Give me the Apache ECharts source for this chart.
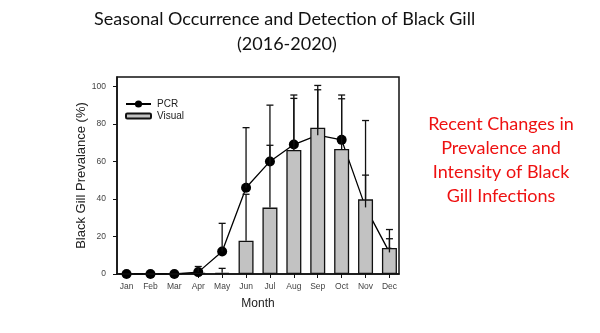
<!DOCTYPE html>
<html>
<head>
<meta charset="utf-8">
<script src="https://cdn.jsdelivr.net/npm/echarts@6/dist/echarts.min.js"></script>
<style>
  html, body { margin: 0; padding: 0; background: #fff; }
  #chart { width: 600px; height: 333px; }
</style>
</head>
<body>
<div id="chart"></div>
<script>
// Month categories (x positions 1..12)
var months = ['Jan', 'Feb', 'Mar', 'Apr', 'May', 'Jun', 'Jul', 'Aug', 'Sep', 'Oct', 'Nov', 'Dec'];
// PCR prevalence (%) and upper end of its error bar
var pcr = [0, 0, 0, 1, 12, 46, 60, 69, 74, 71.5, 35.5, 11.5];
var pcrUpper = [null, null, null, 4, 27, 78, 90, 95.4, 100.5, 95.4, 81.8, 23.7];
// Visual prevalence (%) and upper end of its error bar
var visual = [0, 0, 0, 0.6, 0.6, 17.7, 35.4, 66.1, 78, 66.6, 39.8, 13.9];
var visualUpper = [null, null, null, null, 3, 42.5, 68.6, 93.6, 98.2, 93.4, 52.7, 18.8];
// Y axis tick values
var yTicks = [0, 20, 40, 60, 80, 100];

var monthPos = months.map(function (m, i) { return i + 1; });
var FONT = 'Liberation Sans, Arial, sans-serif';

function pairs(values) {
  return values.map(function (v, i) { return [i + 1, v]; });
}

function errorData(values, uppers) {
  var out = [];
  values.forEach(function (v, i) {
    if (uppers[i] != null) out.push([i + 1, v, uppers[i]]);
  });
  return out;
}

function renderError(params, api) {
  var x = api.value(0);
  var low = api.coord([x, api.value(1)]);
  var high = api.coord([x, api.value(2)]);
  var half = 3.5;
  var style = { stroke: '#111', lineWidth: 1.3 };
  return {
    type: 'group',
    children: [
      { type: 'line', shape: { x1: low[0], y1: low[1], x2: high[0], y2: high[1] }, style: style },
      { type: 'line', shape: { x1: high[0] - half, y1: high[1], x2: high[0] + half, y2: high[1] }, style: style }
    ]
  };
}

var chart = echarts.init(document.getElementById('chart'), null, { renderer: 'canvas' });

chart.setOption({
  animation: false,
  backgroundColor: '#fff',
  textStyle: { fontFamily: FONT },
  grid: {
    left: 117, right: 201, top: 77, bottom: 59,
    show: true, borderColor: '#111', borderWidth: 1.5, backgroundColor: 'transparent'
  },
  legend: [
    {
      data: ['PCR'], left: 125, top: 99, itemWidth: 25, itemHeight: 9, itemGap: 0,
      textStyle: { fontSize: 10, color: '#222', padding: [0, 0, 0, 1] },
      padding: 0
    },
    {
      data: ['Visual'], left: 125, top: 111, itemWidth: 25, itemHeight: 5, itemGap: 0,
      textStyle: { fontSize: 10, color: '#222', padding: [0, 0, 0, 1] },
      padding: 0
    }
  ],
  xAxis: {
    type: 'value', min: 0.6, max: 12.4,
    name: 'Month', nameLocation: 'middle', nameGap: 24,
    nameTextStyle: { fontSize: 12, color: '#222', fontFamily: FONT },
    axisLine: { show: true, onZero: false, lineStyle: { color: '#111', width: 1.5 } },
    axisTick: { show: true, inside: false, length: 4, customValues: monthPos, lineStyle: { color: '#111' } },
    axisLabel: {
      customValues: monthPos, margin: 8, fontSize: 8.5, color: '#444',
      formatter: function (v) { return months[Math.round(v) - 1] || ''; }
    },
    splitLine: { show: false }
  },
  yAxis: {
    type: 'value', min: 0, max: 105,
    name: 'Black Gill Prevalance (%)', nameLocation: 'middle', nameGap: 28,
    nameTextStyle: { fontSize: 13, color: '#222', fontFamily: FONT },
    axisLine: { show: true, lineStyle: { color: '#111', width: 1.5 } },
    axisTick: { show: true, length: 4, customValues: yTicks, lineStyle: { color: '#111' } },
    axisLabel: { customValues: yTicks, margin: 11, fontSize: 8.5, color: '#444' },
    splitLine: { show: false }
  },
  series: [
    {
      name: 'PCR', type: 'line', data: pairs(pcr), z: 2,
      symbol: 'circle', symbolSize: 10,
      lineStyle: { color: '#000', width: 1.3 },
      itemStyle: { color: '#000' }
    },
    {
      name: 'Visual', type: 'bar', data: pairs(visual), z: 3,
      barWidth: 15,
      itemStyle: { color: '#c2c2c2', borderColor: '#111', borderWidth: 1.3 }
    },
    {
      name: 'Visual error', type: 'custom', data: errorData(visual, visualUpper), z: 4,
      renderItem: renderError, encode: { x: 0, y: [1, 2] }
    },
    {
      name: 'PCR error', type: 'custom', data: errorData(pcr, pcrUpper), z: 4,
      renderItem: renderError, encode: { x: 0, y: [1, 2] }
    }
  ],
  graphic: [
    {
      type: 'text', left: 94, top: 10,
      style: { text: 'Seasonal Occurrence and Detection of Black Gill', font: '18px Lato, "Open Sans", sans-serif', fill: '#111' }
    },
    {
      type: 'text', left: 237, top: 35,
      style: { text: '(2016-2020)', font: '18px Lato, "Open Sans", sans-serif', fill: '#111' }
    },
    {
      type: 'text', x: 501, y: 112,
      style: {
        text: 'Recent Changes in\nPrevalence and\nIntensity of Black\nGill Infections',
        font: '18px Lato, "Open Sans", sans-serif', fill: '#ee1111',
        textAlign: 'center', align: 'center', lineHeight: 24
      }
    }
  ]
});
</script>
</body>
</html>
